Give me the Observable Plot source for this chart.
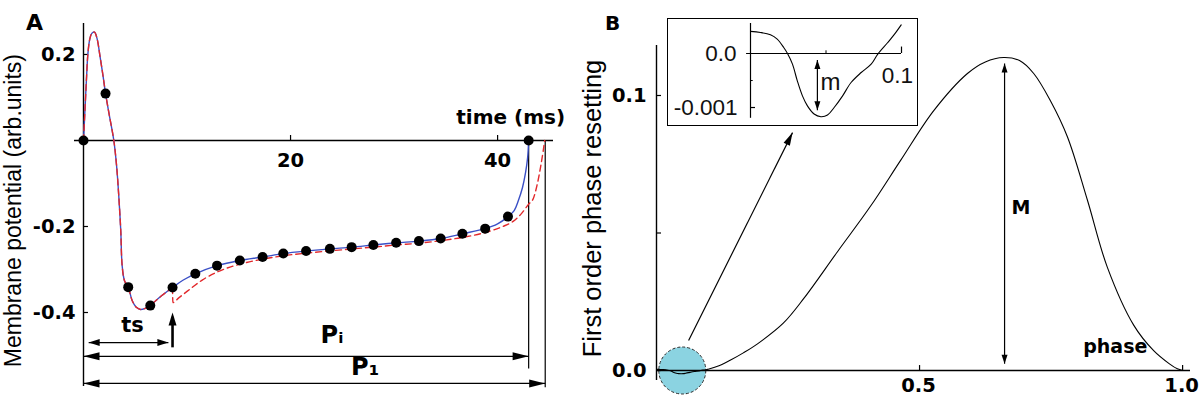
<!DOCTYPE html>
<html><head><meta charset="utf-8">
<script src="https://cdn.jsdelivr.net/npm/d3@7"></script>
<script src="https://cdn.jsdelivr.net/npm/@observablehq/plot@0.6"></script>
<style>
html,body{margin:0;padding:0;background:#fff;}
#wrap{position:relative;width:1200px;height:405px;overflow:hidden;background:#fff;}
#wrap svg{position:absolute;}
</style></head><body><div id="wrap"></div>
<script>
// ---------------- Panel A: membrane potential trace ----------------
const dotTime = [0, 2.13, 4.32, 6.45, 8.6, 10.8, 12.9, 15.1, 17.3, 19.3, 21.5, 23.8, 25.9, 28.0, 30.2, 32.4, 34.5, 36.6, 38.8, 41.0, 43.0];
const dotPot  = [0, 0.109, -0.341, -0.384, -0.342, -0.310, -0.291, -0.279, -0.271, -0.263, -0.257, -0.252, -0.248, -0.243, -0.238, -0.234, -0.228, -0.217, -0.205, -0.177, 0];

const blueTime = [0, 0.1, 0.2, 0.3, 0.42, 0.6, 0.8, 1.06, 1.3, 1.6, 1.9, 2.13, 2.5, 2.93, 3.2, 3.41, 3.6, 3.73, 3.96, 4.32, 4.7, 5.1, 5.5, 6.0, 6.45, 7.0, 7.6, 8.6, 9.6, 10.8, 12.9, 15.1, 17.3, 19.3, 21.5, 23.8, 25.9, 28.0, 30.2, 32.4, 34.5, 36.6, 38.8, 40.0, 41.0, 41.6, 42.0, 42.4, 42.7, 42.9, 43.0];
const bluePot  = [0, 0.05, 0.1, 0.15, 0.2, 0.235, 0.249, 0.252, 0.238, 0.195, 0.148, 0.109, 0.058, 0, -0.06, -0.13, -0.21, -0.29, -0.326, -0.341, -0.372, -0.388, -0.393, -0.39, -0.384, -0.372, -0.36, -0.342, -0.325, -0.310, -0.291, -0.279, -0.271, -0.263, -0.257, -0.252, -0.248, -0.243, -0.238, -0.234, -0.228, -0.217, -0.205, -0.194, -0.177, -0.163, -0.14, -0.11, -0.075, -0.04, 0];

// perturbed trace (after the stimulus)
const redTime = [8.6, 8.63, 9.2, 10.0, 11.5, 12.9, 15.2, 17.3, 19.3, 21.5, 23.7, 26.0, 28.0, 30.2, 32.3, 34.5, 36.7, 38.8, 40.5, 41.5, 42.3, 43.0, 43.45, 43.8, 44.15, 44.4, 44.55];
const redPot  = [-0.342, -0.377, -0.366, -0.351, -0.324, -0.306, -0.287, -0.276, -0.268, -0.262, -0.257, -0.252, -0.248, -0.243, -0.239, -0.233, -0.225, -0.214, -0.2, -0.188, -0.17, -0.148, -0.135, -0.105, -0.062, -0.025, 0];

const xTicksA = [20, 40];
const yTicksA = [0.2, -0.2, -0.4];

// annotation values (ms / arb. units)
const stimTime = 8.6, periodI = 43.0, period1 = 44.6;
const tsStart = 0.5, tsEnd = 8.2;
const tsLevel = -0.470, piLevel = -0.502, p1Level = -0.565;

// ---------------- Panel B: phase resetting curve ----------------
const prcPhase = [0, 0.0066, 0.0132, 0.0177, 0.022, 0.0245, 0.0278, 0.031, 0.0344, 0.0377, 0.0421, 0.0466, 0.051, 0.0554, 0.061, 0.0666, 0.0733, 0.0799, 0.0843, 0.0909, 0.0954, 0.0998, 0.12, 0.14, 0.165, 0.192, 0.241, 0.28, 0.344, 0.407, 0.464, 0.527, 0.591, 0.625, 0.66, 0.69, 0.717, 0.749, 0.781, 0.819, 0.857, 0.907, 0.945, 0.975, 0.99, 1.0];
const prcValue = [0.00041, 0.00039, 0.000346, 0.000266, 0.000111, 0, -0.000197, -0.000506, -0.000784, -0.000969, -0.00112, -0.00117, -0.00114, -0.001, -0.000784, -0.000537, -0.000352, -0.000197, -0.00001, 0.000204, 0.000359, 0.000531, 0.0018, 0.0037, 0.0064, 0.0097, 0.0172, 0.0262, 0.0432, 0.0598, 0.0764, 0.0945, 0.108, 0.1122, 0.1138, 0.1127, 0.108, 0.098, 0.085, 0.062, 0.0375, 0.0165, 0.0072, 0.0024, 0.0006, 0];

const xTicksB = [0.5, 1.0];
const yTicksB = [0, 0.05, 0.1];
const yLabelsB = [0, 0.1];
const peakPhase = 0.6616, peakTop = 0.1116, peakBottom = 0.0025;
const zoomCenter = 0.049;
const zoomArrowFrom = [0.061, 0.0109], zoomArrowTo = [0.2586, 0.0865];

// inset
const xTicksIn = [0.05, 0.1];
const yTicksIn = [-0.0005, -0.001];
const minPhase = 0.0443, minTop = -0.00012, minBottom = -0.00105;

// ---------------- helpers ----------------
const rows = (xs, ys) => xs.map((x, i) => ({x, y: ys[i]}));
const blueRows = rows(blueTime, bluePot);
const redPre = blueRows.filter(d => d.x <= stimTime);
const redPost = rows(redTime, redPot);
const dotRows = rows(dotTime, dotPot);
const prcRows = rows(prcPhase, prcValue);
const insetRows = prcRows.filter(d => d.x <= 0.1);

const headShape = (angle, L, W) => {
  const a = angle * Math.PI / 180, c = Math.cos(a), s = Math.sin(a);
  const p = (x, y) => [x * c - y * s, x * s + y * c];
  return {draw(ctx) {
    const [x1, y1] = p(-L, -W / 2), [x2, y2] = p(-L, W / 2);
    ctx.moveTo(0, 0); ctx.lineTo(x1, y1); ctx.lineTo(x2, y2); ctx.closePath();
  }};
};
const head = (x, y, angle, L, W) => Plot.dot([0], {x: () => x, y: () => y, r: 3, symbol: headShape(angle, L, W), fill: "#000", stroke: "none"});
const seg = (x1, y1, x2, y2, sw = 1.2) => Plot.link([0], {x1: () => x1, y1: () => y1, x2: () => x2, y2: () => y2, stroke: "#000", strokeWidth: sw});
const txt = (s, x, y, o = {}) => Plot.text([s], {x: () => x, y: () => y, text: d => d, fill: "#000", ...o});
const BOLD = {fontFamily: "DejaVu Sans", fontWeight: "bold"};
const REG = {fontFamily: "Liberation Sans, Arial, sans-serif", fontWeight: "normal"};

const wrap = document.getElementById("wrap");

// ---------------- Panel A ----------------
const plotA = Plot.plot({
  width: 570, height: 405, marginLeft: 83, marginRight: 17, marginTop: 20, marginBottom: 10,
  x: {domain: [0, 45.4], axis: null},
  y: {domain: [-0.593, 0.279], axis: null},
  style: {background: "transparent", overflow: "visible"},
  marks: [
    Plot.ruleY([0], {x1: -0.87, x2: 45.4, stroke: "#000", strokeWidth: 1.4}),
    Plot.ruleX([0], {y1: -0.572, y2: 0.272, stroke: "#000", strokeWidth: 1.4}),
    Plot.ruleX(xTicksA, {y1: 0, y2: 0.0116, stroke: "#000", strokeWidth: 1.2}),
    Plot.ruleY(yTicksA, {x1: 0, x2: 0.48, stroke: "#000", strokeWidth: 1.2}),
    Plot.text(xTicksA, {x: d => d, y: 0, dy: 20, text: d => String(d), fontSize: 19.5, ...BOLD}),
    Plot.text(yTicksA, {x: 0, y: d => d, dx: -8, textAnchor: "end", text: d => d.toFixed(1), fontSize: 19.5, ...BOLD}),
    // period lines
    seg(periodI, 0, periodI, -0.53, 1.2),
    seg(period1, 0, period1, -0.574, 1.2),
    // traces
    Plot.line(blueRows, {x: "x", y: "y", stroke: "#3a4fc6", strokeWidth: 1.4, curve: "catmull-rom"}),
    Plot.line(redPre, {x: "x", y: "y", stroke: "#e2282b", strokeWidth: 1.4, strokeDasharray: "6,4", curve: "catmull-rom"}),
    Plot.line(redPost, {x: "x", y: "y", stroke: "#e2282b", strokeWidth: 1.4, strokeDasharray: "6,4", curve: "monotone-x"}),
    Plot.dot(dotRows, {x: "x", y: "y", r: 5, fill: "#000", stroke: "none"}),
    // ts arrow
    seg(tsStart, tsLevel, tsEnd, tsLevel, 1.2),
    head(tsStart, tsLevel, 180, 11, 7), head(tsEnd, tsLevel, 0, 11, 7),
    // stimulus arrow
    seg(stimTime, -0.481, stimTime, -0.41, 2.6),
    head(stimTime, -0.4, -90, 13, 8),
    // Pi and P1 arrows
    seg(0, piLevel, periodI, piLevel, 1.2),
    head(0, piLevel, 180, 16, 8), head(periodI, piLevel, 0, 16, 8),
    seg(0, p1Level, period1, p1Level, 1.2),
    head(0, p1Level, 180, 16, 8), head(period1, p1Level, 0, 16, 8),
    // labels
    txt("ts", 4.73, -0.430, {fontSize: 21, ...BOLD}),
    txt("P\u1D62", 24.0, -0.452, {fontSize: 24, ...BOLD}),
    txt("P\u2081", 27.2, -0.527, {fontSize: 24, ...BOLD}),
    txt("time (ms)", 41.26, 0.0535, {fontSize: 20, ...BOLD}),
    txt("A", 0, 0.274, {dx: -49, fontSize: 22, ...BOLD}),
    txt("Membrane potential (arb.units)", 0, -0.163, {dx: -70, rotate: -90, fontSize: 23, ...REG})
  ]
});
plotA.style.left = "0px"; plotA.style.top = "0px";
wrap.appendChild(plotA);

// ---------------- Panel B ----------------
const bW = 630, bML = 86, bMR = 10, bMT = 20, bMB = 10;
const bX = [0, 1.015], bY = [-0.00909, 0.12727];
const sx = d3.scaleLinear(bX, [bML, bW - bMR]);
const sy = d3.scaleLinear(bY, [405 - bMB, bMT]);
const zAngle = Math.atan2(sy(zoomArrowTo[1]) - sy(zoomArrowFrom[1]), sx(zoomArrowTo[0]) - sx(zoomArrowFrom[0])) * 180 / Math.PI;

const plotB = Plot.plot({
  width: bW, height: 405, marginLeft: bML, marginRight: bMR, marginTop: bMT, marginBottom: bMB,
  x: {domain: bX, axis: null},
  y: {domain: bY, axis: null},
  style: {background: "transparent", overflow: "visible"},
  marks: [
    Plot.dot([zoomCenter], {x: d => d, y: 0, r: 23.5, fill: "#8bd3e1", stroke: "#2a2a2a", strokeWidth: 1, strokeDasharray: "3,2"}),
    Plot.ruleY([0], {x1: 0, x2: 1.015, stroke: "#000", strokeWidth: 1.4}),
    Plot.ruleX([0], {y1: -0.0036, y2: 0.1182, stroke: "#000", strokeWidth: 1.4}),
    Plot.ruleY(yTicksB, {x1: 0, x2: 0.0095, stroke: "#000", strokeWidth: 1.2}),
    Plot.ruleX(xTicksB, {y1: 0, y2: 0.0018, stroke: "#000", strokeWidth: 1.2}),
    Plot.text(yLabelsB, {x: 0, y: d => d, dx: -10, textAnchor: "end", text: d => d.toFixed(1), fontSize: 19.5, ...BOLD}),
    Plot.text(xTicksB, {x: d => d, y: 0, dy: 15, dx: -1, text: d => d.toFixed(1), fontSize: 19.5, ...BOLD}),
    Plot.line(prcRows, {x: "x", y: "y", stroke: "#000", strokeWidth: 1.1, curve: "catmull-rom"}),
    // M arrow
    seg(peakPhase, peakBottom, peakPhase, peakTop, 1.2),
    head(peakPhase, peakTop, -90, 9, 6), head(peakPhase, peakBottom, 90, 9, 6),
    txt("M", peakPhase, 0.0593, {dx: 7, textAnchor: "start", fontSize: 19, ...BOLD}),
    txt("phase", 0.933, 0.0084, {textAnchor: "end", fontSize: 19, ...BOLD}),
    // zoom arrow
    seg(zoomArrowFrom[0], zoomArrowFrom[1], zoomArrowTo[0], zoomArrowTo[1], 1.2),
    head(zoomArrowTo[0], zoomArrowTo[1], zAngle, 13, 7),
    txt("B", 0, 0.1262, {dx: -44, fontSize: 20, ...BOLD}),
    txt("First order phase resetting", 0, 0.0589, {dx: -64, rotate: -90, fontSize: 25.5, ...REG})
  ]
});
plotB.style.left = "570px"; plotB.style.top = "0px";
wrap.appendChild(plotB);

// ---------------- Inset ----------------
const plotC = Plot.plot({
  width: 251, height: 108, marginLeft: 83, marginRight: 17, marginTop: 5, marginBottom: 5,
  x: {domain: [0, 0.1], axis: null},
  y: {domain: [-0.001259, 0.000556], axis: null},
  style: {background: "#fff", overflow: "visible"},
  marks: [
    Plot.ruleY([0], {x1: -0.0026, x2: 0.1, stroke: "#000", strokeWidth: 1.2}),
    Plot.ruleX([0], {y1: -0.0012, y2: 0.000556, stroke: "#000", strokeWidth: 1.2}),
    Plot.ruleX([xTicksIn[0]], {y1: 0, y2: 0.00005, stroke: "#000", strokeWidth: 1}),
    Plot.ruleX([xTicksIn[1]], {y1: 0, y2: 0.00012, stroke: "#000", strokeWidth: 1.2}),
    Plot.ruleY([yTicksIn[0]], {x1: 0, x2: 0.0018, stroke: "#000", strokeWidth: 1}),
    Plot.ruleY([yTicksIn[1]], {x1: 0, x2: 0.0033, stroke: "#000", strokeWidth: 1.2}),
    Plot.text([0], {x: 0, y: d => d, dx: -14, textAnchor: "end", text: () => "0.0", fill: "#111", fontSize: 22.5, ...REG}),
    Plot.text([-0.001], {x: 0, y: d => d, dx: -13, textAnchor: "end", text: () => "-0.001", fill: "#111", fontSize: 22.5, ...REG}),
    Plot.text([0.1], {x: d => d, y: -0.00041, dx: -4, text: () => "0.1", fill: "#111", fontSize: 22.5, ...REG}),
    Plot.line(insetRows, {x: "x", y: "y", stroke: "#000", strokeWidth: 1.1, curve: "catmull-rom"}),
    seg(minPhase, minTop, minPhase, minBottom, 1.2),
    head(minPhase, minTop, -90, 9, 6), head(minPhase, minBottom, 90, 9, 6),
    txt("m", minPhase, -0.00054, {dx: 3, textAnchor: "start", fill: "#111", fontSize: 24, ...REG})
  ]
});
plotC.style.left = "667px"; plotC.style.top = "18px";
plotC.style.outline = "1.5px solid #000"; plotC.style.outlineOffset = "-1.5px";
wrap.appendChild(plotC);
</script></body></html>
